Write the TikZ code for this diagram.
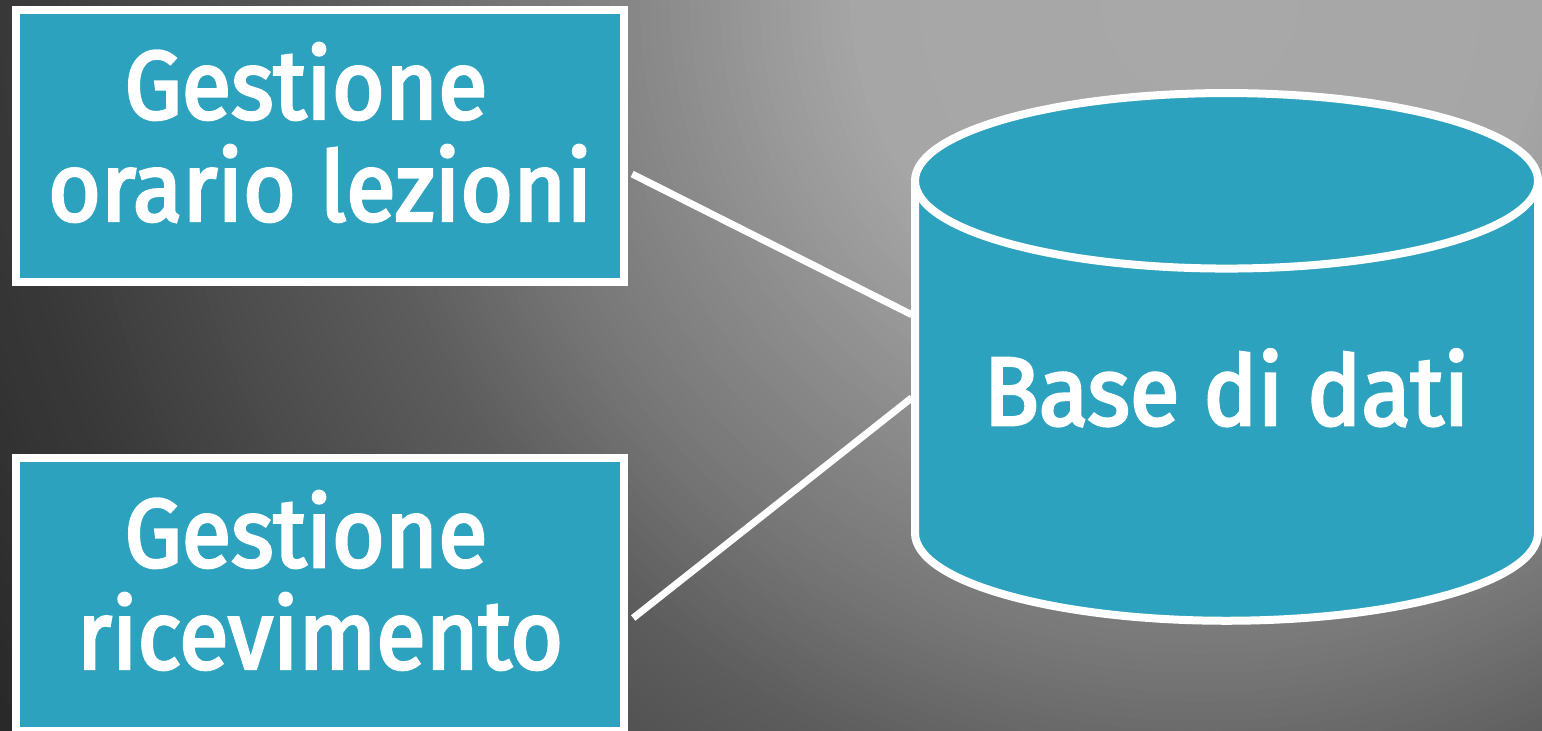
\documentclass[tikz,border=0pt]{standalone}
\usepackage{fontspec}
\setmainfont{Fira Sans}[FakeStretch=0.935, FakeBold=3]
\usetikzlibrary{calc}
\definecolor{boxfill}{RGB}{44,162,191}
\tikzset{
  gbox/.style={rectangle, draw=white, line width=0.08cm, fill=boxfill, inner sep=0pt, minimum width=6.08cm},
  lbl/.style={text=white, align=center, inner sep=0pt, font=\fontsize{27.6pt}{29pt}\selectfont},
  conn/.style={draw=white, line width=0.07cm},
  cyl/.style={draw=white, line width=0.08cm, fill=boxfill}
}
\begin{document}
\begin{tikzpicture}[x=0.01cm,y=0.01cm]
\useasboundingbox (0,0) rectangle (1542,-730);
\begin{scope}
  \clip (0,0) rectangle (1542,-730);
  % radial background gradient, light at top right, dark to the left
  \foreach \r in {1500,1490,...,0} {
    \pgfmathsetmacro\s{\r/100}
    \pgfmathsetmacro\g{\s<3.5 ? 168-\s/3.5*2 : (\s<5.5 ? 166-(\s-3.5)/2*28 : (\s<7 ? 138-(\s-5.5)/1.5*20 : (\s<8.5 ? 118-(\s-7)/1.5*25 : (\s<10 ? 93-(\s-8.5)/1.5*15 : (\s<12 ? 78-(\s-10)/2*22 : max(38,56-(\s-12)/2*14))))))}
    \pgfmathsetmacro\p{\g/255*100}
    \fill[white!\p!black] (1200,0) ellipse [x radius=\r, y radius=\r/1.04];
  }

  % boxes
  \node[gbox, minimum height=2.72cm] (g1) at (320,-146) {};
  \node[gbox, minimum height=2.73cm] (g2) at (320,-594.5) {};
  \node[lbl] (t1) at (320,-132.5) {Gestione\kern0.28cm\\orario lezioni};
  \node[lbl] (t2) at (320,-580.5) {Gestione\kern0.28cm\\ricevimento};

  % database node (cylinder body)
  \node[inner sep=0pt, outer sep=0pt, minimum width=6.23cm, minimum height=5.28cm] (db) at (1226.5,-356.75) {};

  % connectors
  \draw[conn] ($(g1.east)+(4,-28)$) -- ($(db.west)+(-3,42)$);
  \draw[conn] ($(g2.east)+(5,-23.5)$) -- ($(db.west)+(-3,-41)$);

  % cylinder
  \path[fill=boxfill] (915,-180.8) -- (915,-533)
     arc[start angle=180, end angle=360, x radius=311.5, y radius=87.75]
     -- (1538,-180.8)
     arc[start angle=0, end angle=180, x radius=311.5, y radius=87.75] -- cycle;
  \draw[draw=white, line width=0.08cm] (915,-180.8) -- (915,-533)
     arc[start angle=180, end angle=360, x radius=311.5, y radius=87.75]
     -- (1538,-180.8);
  \draw[cyl] (1226.5,-180.8) ellipse [x radius=311.5, y radius=87.75];
  \node[lbl, anchor=base] (t3) at (1226.5,-425) {Base di dati};
\end{scope}
\end{tikzpicture}
\end{document}
